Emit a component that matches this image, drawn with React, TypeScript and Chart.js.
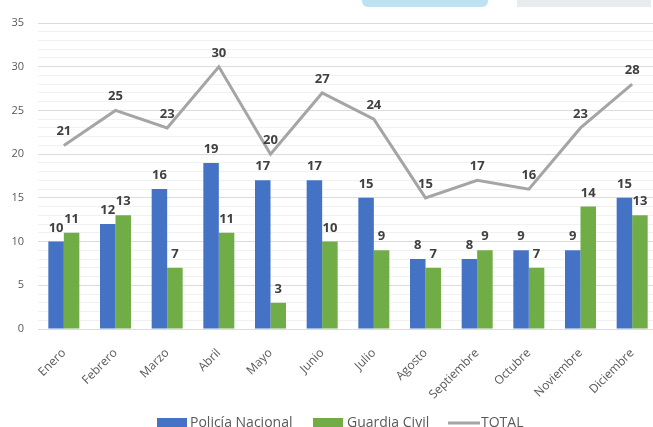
import React, { useEffect, useRef } from "react";
import { Chart, registerables } from "chart.js";

Chart.register(...registerables);

const months = ["Enero", "Febrero", "Marzo", "Abril", "Mayo", "Junio", "Julio", "Agosto", "Septiembre", "Octubre", "Noviembre", "Diciembre"];
const policiaNacional = [10, 12, 16, 19, 17, 17, 15, 8, 8, 9, 9, 15];
const guardiaCivil = [11, 13, 7, 11, 3, 10, 9, 7, 9, 7, 14, 13];
const total = [21, 25, 23, 30, 20, 27, 24, 15, 17, 16, 23, 28];

const FONT = "'Open Sans', 'Liberation Sans', sans-serif";

const dataLabelPlugin = {
  id: "dataLabels",
  afterDatasetsDraw(chart: any) {
    const ctx = chart.ctx;
    ctx.save();
    ctx.font = `bold 13px ${FONT}`;
    ctx.fillStyle = "#404040";
    ctx.textAlign = "center";
    ctx.textBaseline = "alphabetic";
    chart.data.datasets.forEach((ds: any, di: number) => {
      const meta = chart.getDatasetMeta(di);
      meta.data.forEach((el: any, i: number) => {
        const v = ds.data[i];
        ctx.fillText(String(v), el.x, el.y - 10);
      });
    });
    ctx.restore();
  },
};

// Legend drawn by a small plugin, from the datasets' own labels and colours
const legendPlugin = {
  id: "customLegend",
  afterDraw(chart: any) {
    const ctx = chart.ctx;
    const ds = chart.data.datasets;
    const y = 423;
    const slots = [
      { x: 157, w: 30, gap: 3 },
      { x: 313, w: 30, gap: 4 },
      { x: 448, w: 32, gap: 1 },
    ];
    ctx.save();
    ctx.font = `14px ${FONT}`;
    ctx.textBaseline = "middle";
    ctx.textAlign = "left";
    ds.forEach((d: any, i: number) => {
      const s = slots[i];
      if (d.type === "line") {
        ctx.strokeStyle = d.borderColor;
        ctx.lineWidth = 3;
        ctx.beginPath();
        ctx.moveTo(s.x, y);
        ctx.lineTo(s.x + s.w, y);
        ctx.stroke();
      } else {
        ctx.fillStyle = d.backgroundColor;
        ctx.fillRect(s.x, y - 5, s.w, 10);
      }
      ctx.fillStyle = "#595959";
      ctx.fillText(d.label, s.x + s.w + s.gap, y);
    });
    ctx.restore();
  },
};

export default function App() {
  const ref = useRef<HTMLCanvasElement | null>(null);
  useEffect(() => {
    if (!ref.current) return;
    const chart = new Chart(ref.current, {
      type: "bar",
      data: {
        labels: months,
        datasets: [
          {
            type: "bar",
            label: "Policía Nacional",
            data: policiaNacional,
            backgroundColor: "#4472C4",
            categoryPercentage: 0.6,
            barPercentage: 1.0,
          },
          {
            type: "bar",
            label: "Guardia Civil",
            data: guardiaCivil,
            backgroundColor: "#70AD47",
            categoryPercentage: 0.6,
            barPercentage: 1.0,
          },
          {
            type: "line",
            label: "TOTAL",
            data: total,
            borderColor: "#A5A5A5",
            backgroundColor: "#A5A5A5",
            borderWidth: 3,
            pointRadius: 0,
            tension: 0,
          } as any,
        ],
      },
      options: {
        animation: false,
        responsive: false,
        layout: { padding: { top: 23, right: 12, left: 0, bottom: 0 } },
        plugins: {
          tooltip: { enabled: false },
          legend: { display: false },
        },
        scales: {
          x: {
            grid: { display: false },
            border: { display: false },
            ticks: {
              minRotation: 45,
              maxRotation: 45,
              color: "#595959",
              font: { family: FONT, size: 12 },
              padding: 9,
              autoSkip: false,
            },
            afterFit(scale: any) {
              scale.height = 111;
            },
          },
          y: {
            min: 0,
            max: 35,
            border: { display: false },
            grid: {
              drawTicks: false,
              color: (c: any) => (c.tick && c.tick.value % 5 === 0 ? "#DCDCDC" : "#F1F1F1"),
              lineWidth: 1,
            },
            ticks: {
              stepSize: 1,
              autoSkip: false,
              padding: 14,
              color: "#595959",
              font: { family: FONT, size: 11 },
              callback: (v: any) => (Number(v) % 5 === 0 ? String(v) : ""),
            },
            afterFit(scale: any) {
              scale.width = 38;
            },
          },
        },
      },
      plugins: [dataLabelPlugin, legendPlugin],
    });
    return () => chart.destroy();
  }, []);

  return (
    <div style={{ position: "absolute", left: 0, top: 0, width: 670, height: 440, background: "#fff" }}>
      <canvas ref={ref} width={670} height={440} style={{ width: 670, height: 440, display: "block" }} />
      <div style={{ position: "absolute", left: 362, top: 0, width: 126, height: 7, background: "#BDE2F1", borderRadius: "0 0 6px 6px" }} />
      <div style={{ position: "absolute", left: 517, top: 0, width: 134, height: 7, background: "#E8ECEF" }} />
    </div>
  );
}
